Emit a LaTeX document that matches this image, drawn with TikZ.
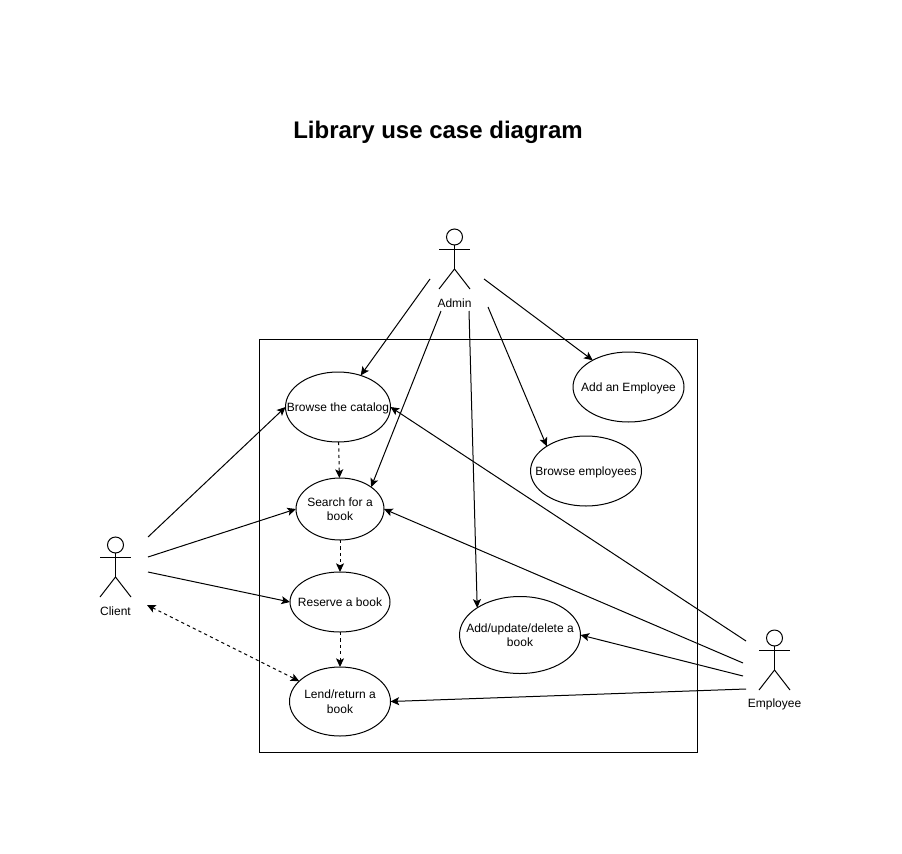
\documentclass[tikz,border=0pt]{standalone}
\usepackage{fontspec}
\setmainfont{Liberation Sans}
\usetikzlibrary{arrows.meta,shapes.geometric}
\newcommand{\uctext}[1]{\raisebox{-3.4pt}[0pt][0pt]{\makebox[0pt]{\begin{tabular}{@{}c@{}}#1\end{tabular}}}}
\tikzset{
  usecase/.style 2 args={ellipse, draw, inner sep=0pt, outer sep=0pt, minimum width=#1*0.75pt, minimum height=#2*0.75pt},
  actorlabel/.style={inner sep=0pt},
  dashline/.style={dash pattern=on 2.4pt off 2.4pt},
  actor/.pic={
    \draw (0,0) circle (8);
    \draw (-15.5,12) -- (15.5,12);
    \draw (0,8) -- (0,32);
    \draw (-15.5,52) -- (0,32) -- (15.5,52);
  }
}
\begin{document}
\begin{tikzpicture}[x=0.75pt, y=-0.75pt, line width=0.75pt, font=\fontsize{9}{10.9}\selectfont, >={Stealth[length=6.5pt,width=6pt,inset=1.5pt]}]
        \useasboundingbox (0,0) rectangle (902,853);
        \node (title) [inner sep=0pt, font=\bfseries\fontsize{18}{22}\selectfont] at (438,132) {Library use case diagram};
        \draw (259.5,339.5) rectangle (697,752);

        \pic at (115.5,545) {actor};
        \pic at (454.5,237) {actor};
        \pic at (774.5,638) {actor};
        \node (client) [actorlabel] at (115.5,611.5) {Client};
        \node (admin) [actorlabel] at (454.5,303.5) {Admin};
        \node (employee) [actorlabel] at (774.5,704.5) {Employee};

        \node (browse) [usecase={105}{70}] at (338,407) {\uctext{Browse the catalog}};
        \node (search) [usecase={88}{62}] at (340,509) {\uctext{Search for a\\book}};
        \node (reserve) [usecase={100}{60}] at (340,602) {\uctext{Reserve a book}};
        \node (lend) [usecase={101}{69}] at (340,701.5) {\uctext{Lend/return a\\book}};
        \node (update) [usecase={121}{77}] at (520,635) {\uctext{Add/update/delete a\\book}};
        \node (browseemp) [usecase={111}{70}] at (586,471) {\uctext{Browse employees}};
        \node (addemp) [usecase={111}{70}] at (628.5,387) {\uctext{Add an Employee}};

        \coordinate (a1) at (430,279);
        \coordinate (a2) at (441,311);
        \coordinate (a3) at (469,311);
        \coordinate (a4) at (488,307);
        \coordinate (a5) at (484,279);
        \coordinate (c1) at (148,537);
        \coordinate (c2) at (148,557);
        \coordinate (c3) at (148,572);
        \coordinate (c4) at (147,605);
        \coordinate (e1) at (746,641);
        \coordinate (e2) at (743,663);
        \coordinate (e3) at (743,676);
        \coordinate (e4) at (746,689);

        \draw [->] (a1) -- (browse);
        \draw [->] (a2) -- (search.north east);
        \draw [->] (a3) -- (update.north west);
        \draw [->] (a4) -- (browseemp.north west);
        \draw [->] (a5) -- (addemp);
        \draw [->] (c1) -- (browse.west);
        \draw [->] (c2) -- (search.west);
        \draw [->] (c3) -- (reserve.west);
        \draw [<->, dashline] (c4) -- (lend);
        \draw [->] (e1) -- (browse.east);
        \draw [->] (e2) -- (search.east);
        \draw [->] (e3) -- (update.east);
        \draw [->] (e4) -- (lend.east);
        \draw [->, dashline] (browse) -- (search);
        \draw [->, dashline] (search) -- (reserve);
        \draw [->, dashline] (reserve) -- (lend);
\end{tikzpicture}
\end{document}
